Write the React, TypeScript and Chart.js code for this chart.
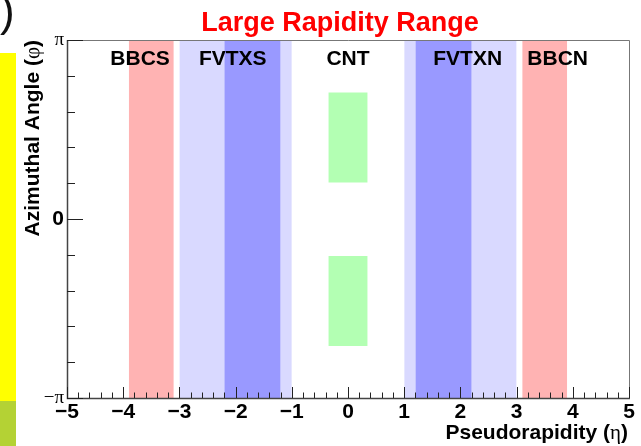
import { useEffect, useRef } from 'react';
import { Chart, registerables } from 'chart.js';

Chart.register(...registerables);

const PI = Math.PI;
const SANS = '"Liberation Sans", Arial, Helvetica, sans-serif';
const SERIF = '"Liberation Serif", "Times New Roman", serif';

// Detector acceptance regions in pseudorapidity (eta) and azimuth (phi)
const bandEtaMin = [-3.9, -3.0, -2.2, 1.0, 1.2, 3.1, -0.35, -0.35];
const bandEtaMax = [-3.1, -1.0, -1.2, 3.0, 2.2, 3.9, 0.35, 0.35];
const bandPhiMin = [-PI, -PI, -PI, -PI, -PI, -PI, 0.64, -2.23];
const bandPhiMax = [PI, PI, PI, PI, PI, PI, 2.22, -0.65];
const bandColors = ['#ffb3b3', '#d9d9ff', '#9999ff', '#d9d9ff', '#9999ff', '#ffb3b3', '#b3ffb3', '#b3ffb3'];
const bandOrder = [1, 1, 0, 1, 0, 1, 1, 1];

// Detector names written across the top of the frame
const detectorNames = ['BBCS', 'FVTXS', 'CNT', 'FVTXN', 'BBCN'];
const detectorEta = [-3.7, -2.05, 0, 2.13, 3.73];

// Axis ticks
const etaRange = [-5, 5];
const etaMinorDivisions = 5;
const phiTickValues = [-PI, 0, PI];
const phiTickLabels = ['\u2212\u03c0', '0', '\u03c0'];
const phiMinorDivisions = 5;

const titleText = 'Large Rapidity Range';

type Run = { text: string; font: string };

function drawRuns(ctx: CanvasRenderingContext2D, runs: Run[], x: number, y: number, align: 'right' | 'center') {
  const widths = runs.map((r) => {
    ctx.font = r.font;
    return ctx.measureText(r.text).width;
  });
  const total = widths.reduce((a, b) => a + b, 0);
  let cx = align === 'right' ? x - total : x - total / 2;
  ctx.textAlign = 'left';
  ctx.textBaseline = 'alphabetic';
  runs.forEach((r, i) => {
    ctx.font = r.font;
    ctx.fillText(r.text, cx, y);
    cx += widths[i];
  });
}

const framePlugin = {
  id: 'frameAndTicks',
  afterDatasetsDraw(chart: any) {
    const { ctx, chartArea: a, scales } = chart;
    const x = scales.x;
    const y = scales.y;
    ctx.save();

    // frame: light top/right, darker axes
    ctx.lineWidth = 1;
    ctx.strokeStyle = '#777';
    ctx.beginPath();
    ctx.moveTo(a.left, a.top + 0.5);
    ctx.lineTo(a.right + 0.5, a.top + 0.5);
    ctx.lineTo(a.right + 0.5, a.bottom);
    ctx.stroke();

    ctx.strokeStyle = '#444';
    ctx.lineWidth = 1.5;
    ctx.beginPath();
    ctx.moveTo(a.left + 0.5, a.top);
    ctx.lineTo(a.left + 0.5, a.bottom + 0.5);
    ctx.lineTo(a.right + 1, a.bottom + 0.5);
    ctx.stroke();

    // inward ticks on the eta axis
    ctx.lineWidth = 1;
    ctx.strokeStyle = '#222';
    const majors: number[] = x.ticks.map((t: any) => t.value);
    ctx.beginPath();
    majors.forEach((v, i) => {
      const px = Math.round(x.getPixelForValue(v)) + 0.5;
      ctx.moveTo(px, a.bottom);
      ctx.lineTo(px, a.bottom - 11);
      if (i < majors.length - 1) {
        const step = (majors[i + 1] - v) / etaMinorDivisions;
        for (let k = 1; k < etaMinorDivisions; k++) {
          const mx = Math.round(x.getPixelForValue(v + k * step)) + 0.5;
          ctx.moveTo(mx, a.bottom);
          ctx.lineTo(mx, a.bottom - 5.5);
        }
      }
    });
    ctx.stroke();

    // inward ticks on the phi axis
    ctx.beginPath();
    phiTickValues.forEach((v, i) => {
      const py = Math.round(y.getPixelForValue(v)) + 0.5;
      ctx.moveTo(a.left, py);
      ctx.lineTo(a.left + 16, py);
      if (i < phiTickValues.length - 1) {
        const step = (phiTickValues[i + 1] - v) / phiMinorDivisions;
        for (let k = 1; k < phiMinorDivisions; k++) {
          const my = Math.round(y.getPixelForValue(v + k * step)) + 0.5;
          ctx.moveTo(a.left, my);
          ctx.lineTo(a.left + 8, my);
        }
      }
    });
    ctx.stroke();

    // detector names
    ctx.fillStyle = '#000';
    detectorNames.forEach((name, i) => {
      drawRuns(ctx, [{ text: name, font: `bold 21px ${SANS}` }], x.getPixelForValue(detectorEta[i]), a.top + 25, 'center');
    });
    ctx.restore();
  },
  afterDraw(chart: any) {
    const { ctx, chartArea: a } = chart;
    ctx.save();

    // title
    ctx.fillStyle = '#ff0000';
    drawRuns(ctx, [{ text: titleText, font: `bold 27px ${SANS}` }], 340, 31, 'center');

    // axis titles
    ctx.fillStyle = '#000';
    drawRuns(
      ctx,
      [
        { text: 'Pseudorapidity (', font: `bold 21px ${SANS}` },
        { text: '\u03b7', font: `21px ${SERIF}` },
        { text: ')', font: `bold 21px ${SANS}` },
      ],
      a.right - 1,
      439,
      'right'
    );

    ctx.translate(38.5, a.top);
    ctx.rotate(-Math.PI / 2);
    drawRuns(
      ctx,
      [
        { text: 'Azimuthal Angle (', font: `bold 21px ${SANS}` },
        { text: '\u03c6', font: `21px ${SERIF}` },
        { text: ')', font: `bold 21px ${SANS}` },
      ],
      0,
      0,
      'right'
    );
    ctx.restore();
  },
};

function etaLabel(v: number) {
  return v < 0 ? '\u2212' + Math.abs(v) : String(v);
}

export default function App() {
  const canvasRef = useRef<HTMLCanvasElement>(null);

  useEffect(() => {
    const canvas = canvasRef.current;
    if (!canvas) return;

    const datasets = bandEtaMin.map((lo, i) => ({
      data: [
        { x: lo, y: bandPhiMax[i] },
        { x: bandEtaMax[i], y: bandPhiMax[i] },
      ],
      fill: { value: bandPhiMin[i] },
      backgroundColor: bandColors[i],
      borderColor: 'rgba(0,0,0,0)',
      borderWidth: 0,
      pointRadius: 0,
      tension: 0,
      order: bandOrder[i],
    }));

    const chart = new Chart(canvas, {
      type: 'line',
      data: { datasets },
      options: {
        responsive: false,
        devicePixelRatio: 1,
        animation: false,
        events: [],
        layout: { padding: { top: 40, right: 12, left: 0, bottom: 0 } },
        plugins: {
          legend: { display: false },
          tooltip: { enabled: false },
          title: { display: false },
        },
        scales: {
          x: {
            type: 'linear',
            min: etaRange[0],
            max: etaRange[1],
            position: 'bottom',
            grid: { display: false, drawTicks: false },
            border: { display: false },
            ticks: {
              stepSize: 1,
              padding: 2,
              autoSkip: false,
              maxRotation: 0,
              color: '#000',
              font: { family: SANS, weight: 'bold', size: 21 },
              callback: (v: any) => etaLabel(Number(v)),
            },
            afterFit: (s: any) => {
              s.height = 48;
            },
          },
          y: {
            type: 'linear',
            min: -PI,
            max: PI,
            grid: { display: false, drawTicks: false },
            border: { display: false },
            afterBuildTicks: (s: any) => {
              s.ticks = phiTickValues.map((v) => ({ value: v }));
            },
            ticks: {
              padding: 3,
              autoSkip: false,
              color: '#000',
              font: (c: any) =>
                c.tick && c.tick.value === 0
                  ? { family: SANS, weight: 'bold', size: 21 }
                  : { family: SERIF, weight: 'normal', size: 19 },
              callback: (_v: any, i: number) => phiTickLabels[i],
            },
            afterFit: (s: any) => {
              s.width = 67;
            },
          },
        },
      } as any,
      plugins: [framePlugin],
    });

    return () => chart.destroy();
  }, []);

  return (
    <div style={{ position: 'fixed', left: 0, top: 0, width: 641, height: 446, background: '#fff', overflow: 'hidden' }}>
      <canvas ref={canvasRef} width={641} height={446} style={{ display: 'block', width: 641, height: 446 }} />
      <div style={{ position: 'absolute', left: 0, top: 53, width: 16, height: 348, background: '#ffff00' }} />
      <div style={{ position: 'absolute', left: 0, top: 401, width: 16, height: 45, background: '#b4d234' }} />
      <span
        style={{
          position: 'absolute',
          left: 0,
          top: -11,
          fontFamily: SANS,
          fontSize: 44,
          lineHeight: '44px',
          color: '#111',
        }}
      >
        )
      </span>
    </div>
  );
}
